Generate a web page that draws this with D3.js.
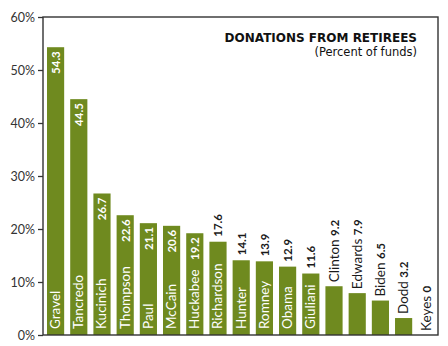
<!DOCTYPE html>
<html>
<head>
<meta charset="utf-8">
<script src="https://cdn.jsdelivr.net/npm/d3@7"></script>
<style>
  html, body { margin: 0; padding: 0; background: #fff; }
  svg { display: block; }
</style>
</head>
<body>
<svg id="chart" width="448" height="346"></svg>
<script>
// Share of campaign funds donated by retirees, by candidate
const candidates = ["Gravel", "Tancredo", "Kucinich", "Thompson", "Paul", "McCain", "Huckabee",
  "Richardson", "Hunter", "Romney", "Obama", "Giuliani", "Clinton", "Edwards", "Biden", "Dodd", "Keyes"];
const retireeShare = [54.3, 44.5, 26.7, 22.6, 21.1, 20.6, 19.2, 17.6, 14.1, 13.9, 12.9, 11.6, 9.2, 7.9, 6.5, 3.2, 0];
const valueLabels = ["54.3", "44.5", "26.7", "22.6", "21.1", "20.6", "19.2", "17.6", "14.1", "13.9",
  "12.9", "11.6", "9.2", "7.9", "6.5", "3.2", "0"];
const yTicks = [0, 10, 20, 30, 40, 50, 60];

const svg = d3.select("#chart");
const plotLeft = 43, plotRight = 438, plotTop = 17, plotBottom = 335;
const barColor = "#6f8a1f";
const font = "Lato, 'Open Sans', sans-serif";

const y = d3.scaleLinear().domain([0, 60]).range([plotBottom, plotTop]);
const x = d3.scaleBand().domain(candidates)
  .range([47, 435.4]).paddingInner(0.26).paddingOuter(0);

// bars
svg.append("g").selectAll("rect")
  .data(candidates)
  .join("rect")
  .attr("x", (d) => x(d))
  .attr("width", x.bandwidth())
  .attr("y", (d, i) => y(retireeShare[i]))
  .attr("height", (d, i) => plotBottom - y(retireeShare[i]))
  .attr("fill", barColor);

// frame
svg.append("rect")
  .attr("x", plotLeft).attr("y", plotTop)
  .attr("width", plotRight - plotLeft).attr("height", plotBottom - plotTop)
  .attr("fill", "none").attr("stroke", "#333").attr("stroke-width", 1.4);

// y axis
const yAxis = d3.axisLeft(y).tickValues(yTicks).tickSize(5).tickPadding(3)
  .tickFormat((d) => d + "%");
const gy = svg.append("g").attr("transform", `translate(${plotLeft},0)`).call(yAxis);
gy.select(".domain").remove();
gy.selectAll(".tick line").attr("stroke", "#333").attr("stroke-width", 1.3);
gy.selectAll(".tick text").attr("fill", "#333")
  .style("font-family", font).style("font-size", "12.5px");

// labels, rotated to read bottom-to-top
const labels = svg.append("g");
candidates.forEach((name, i) => {
  const cx = x(name) + x.bandwidth() / 2 + 4.5;
  const barTop = y(retireeShare[i]);
  const barH = plotBottom - barTop;

  const nameText = labels.append("text")
    .attr("transform", `translate(${cx},${plotBottom - 6}) rotate(-90)`)
    .attr("text-anchor", "start")
    .style("font-family", font).style("font-size", "13.5px")
    .text(name);
  const nameLen = nameText.node().getComputedTextLength();

  const valText = labels.append("text")
    .style("font-family", font).style("font-size", "11.5px").style("font-weight", "bold")
    .text(valueLabels[i]);
  const valLen = valText.node().getComputedTextLength();

  if (nameLen + valLen + 14 <= barH) {
    // name and value both inside the bar
    nameText.attr("fill", "#fff");
    valText.attr("fill", "#fff").attr("text-anchor", "end")
      .attr("transform", `translate(${cx},${barTop + 4}) rotate(-90)`);
  } else if (nameLen + 8 <= barH) {
    // name inside, value above the bar
    nameText.attr("fill", "#fff");
    valText.attr("fill", "#1a1a1a").attr("text-anchor", "start")
      .attr("transform", `translate(${cx},${barTop - 5}) rotate(-90)`);
  } else {
    // short bar: name and value together above it
    valText.remove();
    nameText.text(null).attr("fill", "#1a1a1a")
      .attr("transform", `translate(${cx},${barTop - 4}) rotate(-90)`);
    nameText.append("tspan").text(name + " ");
    nameText.append("tspan").style("font-weight", "bold").style("font-size", "11.5px")
      .text(valueLabels[i]);
  }
});

// title
const title = svg.append("g").attr("text-anchor", "end")
  .style("font-family", "'DejaVu Sans', Verdana, sans-serif").attr("fill", "#111");
title.append("text").attr("x", 417).attr("y", 42)
  .style("font-size", "12px").style("font-weight", "bold")
  .text("DONATIONS FROM RETIREES");
title.append("text").attr("x", 417).attr("y", 56)
  .style("font-size", "11.5px")
  .text("(Percent of funds)");
</script>
</body>
</html>
